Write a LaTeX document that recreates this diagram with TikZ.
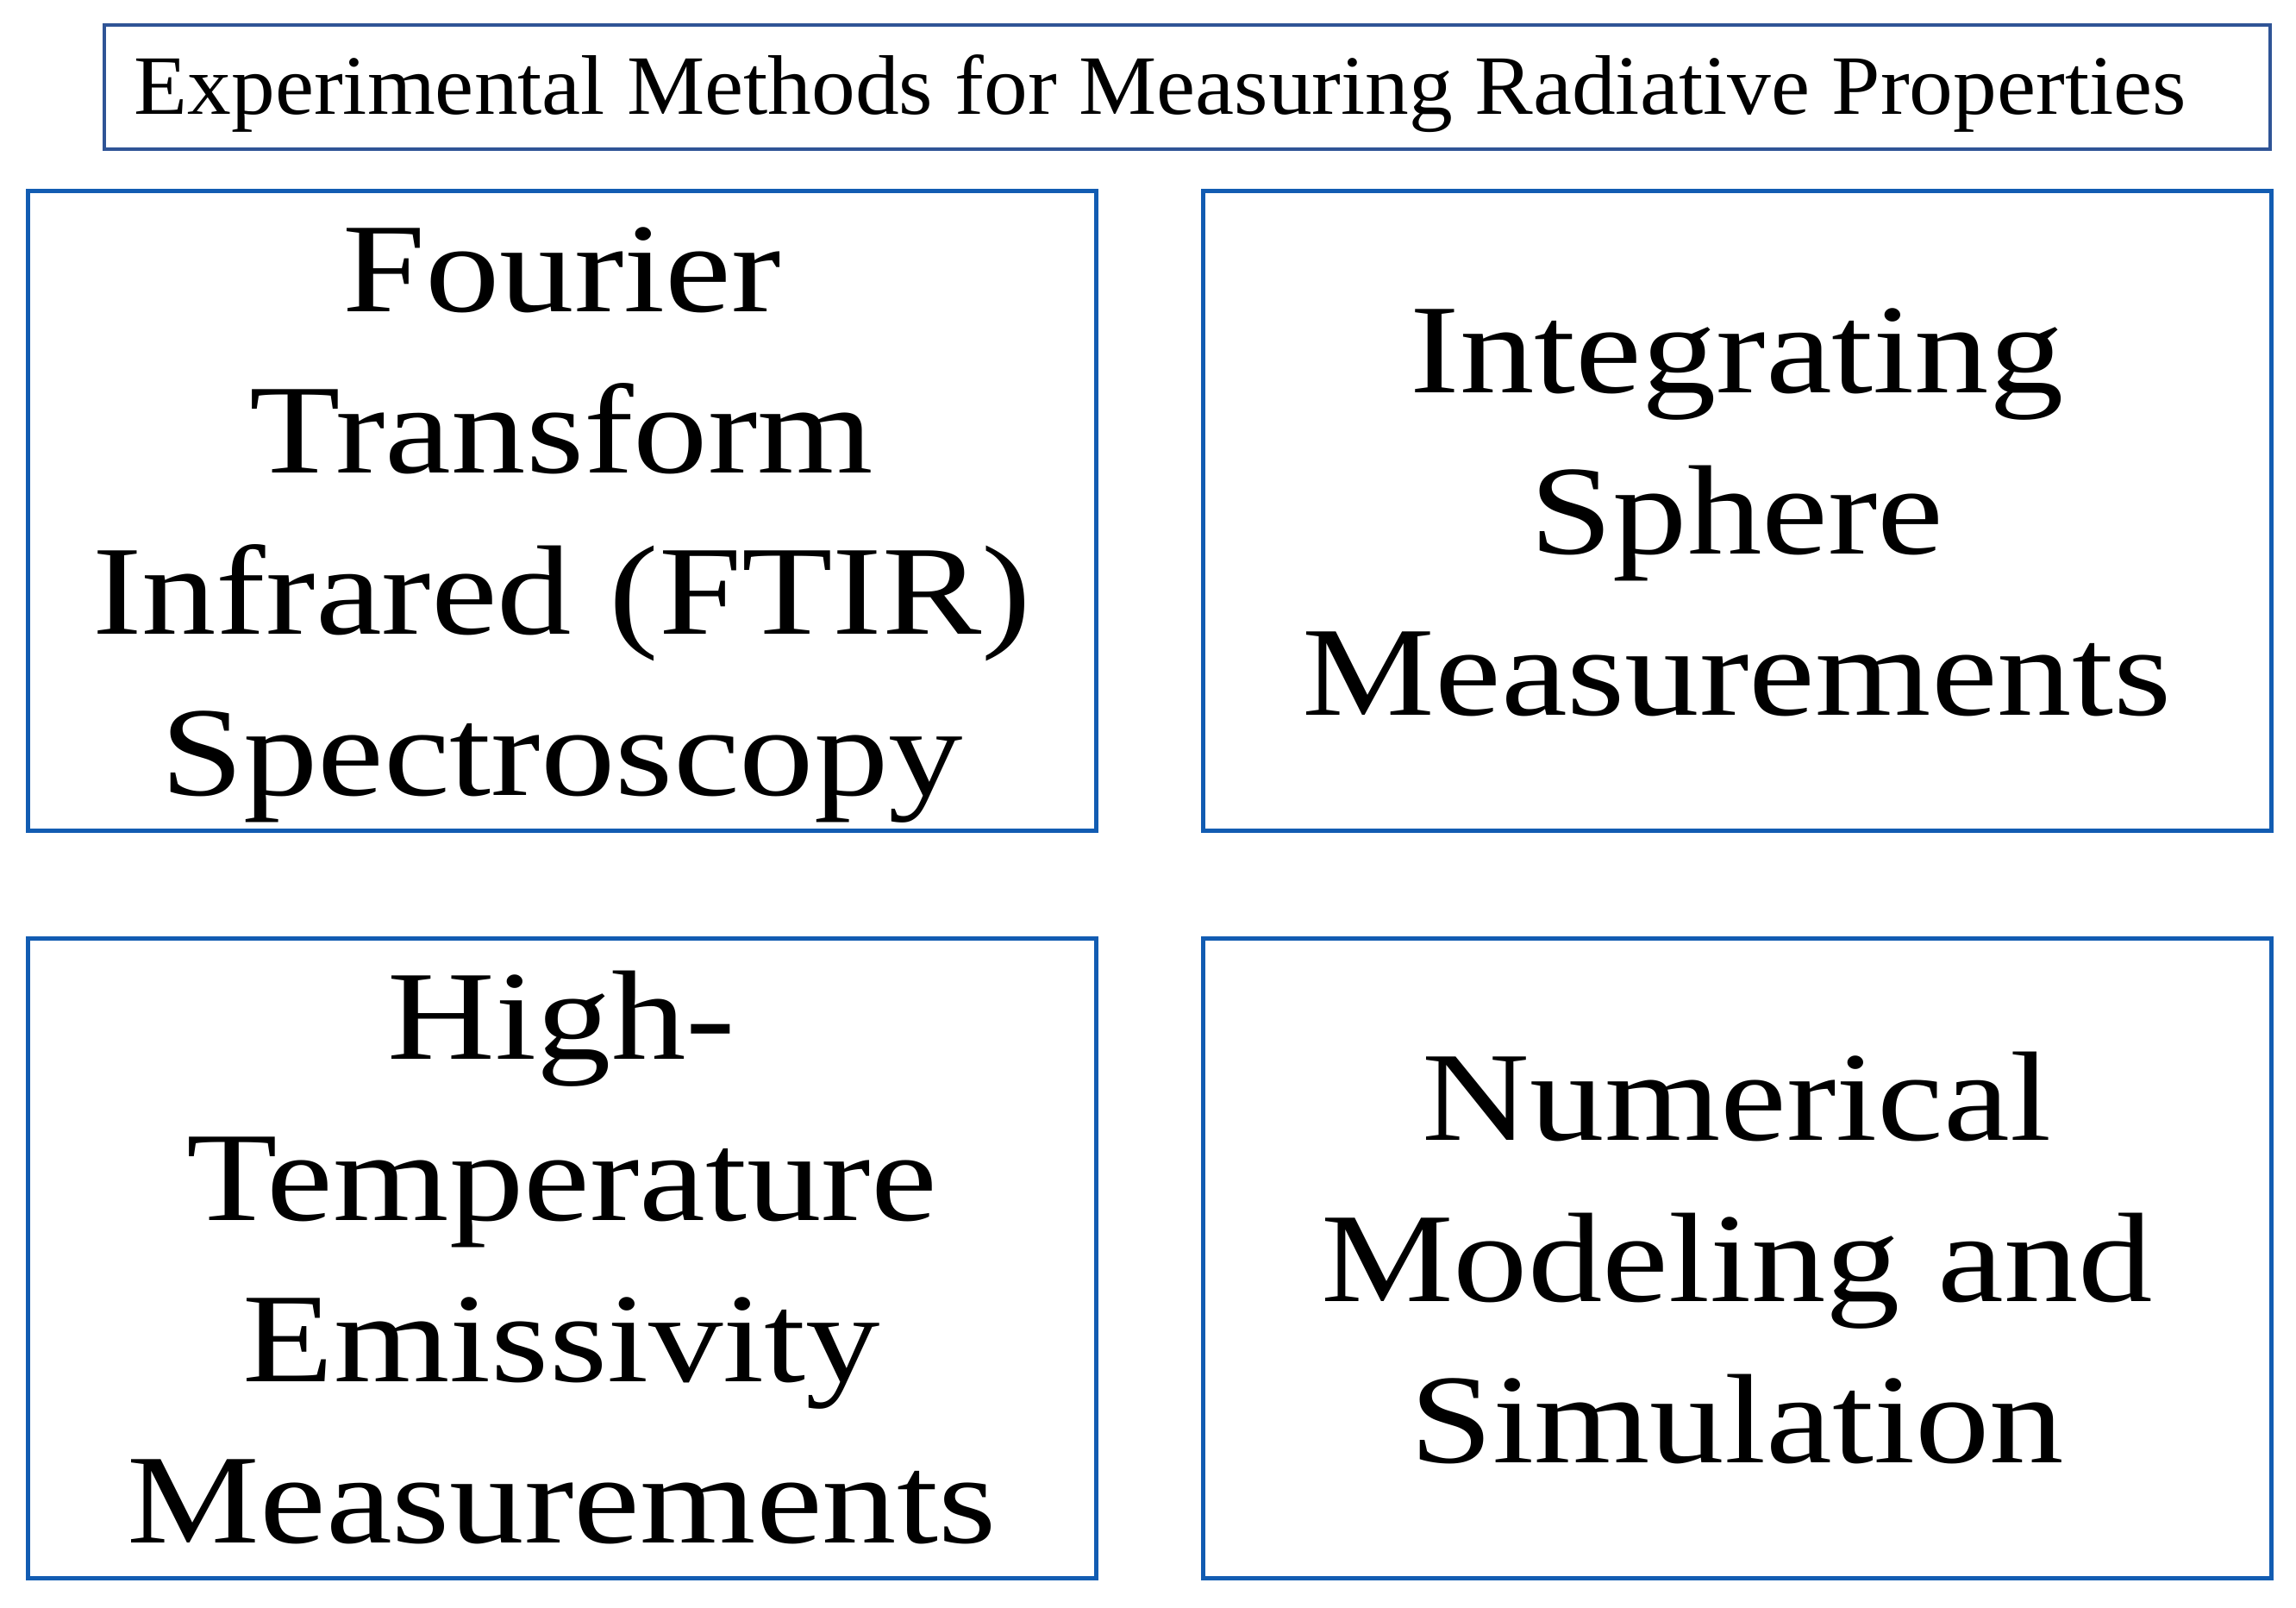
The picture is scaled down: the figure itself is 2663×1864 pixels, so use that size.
\documentclass[tikz,border=0pt]{standalone}
\usepackage{fontspec}
\setmainfont{Liberation Serif}
\newfontfamily\bigfont[FakeStretch=1.17]{Liberation Serif}
\newfontfamily\titlefont[FakeStretch=1.035]{Liberation Serif}
\definecolor{boxblue}{RGB}{18,92,178}
\definecolor{titleblue}{RGB}{47,84,150}
\newcommand\lnstrut{\rule[-13.05pt]{0pt}{56.1pt}}
\tikzset{
  methodbox/.style={draw=boxblue, line width=1.5pt, rectangle, inner sep=0pt,
    minimum width=371.7pt, minimum height=222.6pt},
  titlebox/.style={draw=titleblue, line width=1pt, rectangle, inner sep=0pt,
    minimum width=753.6pt, minimum height=43.2pt},
  bigtext/.style={inner sep=0pt, align=center,
    font=\bigfont\fontsize{44.3}{56.1}\selectfont},
  titletext/.style={inner sep=0pt, anchor=base west,
    font=\titlefont\fontsize{29.4}{34}\selectfont}
}
\begin{document}
\begin{tikzpicture}[x=0.3pt, y=-0.3pt]
\useasboundingbox (0,0) rectangle (2663,1864);
\node[titlebox] (title) at (1377,101) {};
\node[titletext] (titlet) at (155,132) {Experimental Methods for Measuring Radiative Properties};
\node[methodbox] (ftir) at (651.5,592) {};
\node[methodbox] (sphere) at (2014.5,592) {};
\node[methodbox] (hte) at (651.5,1459) {};
\node[methodbox] (num) at (2014.5,1459) {};
\node[bigtext] (ftirt) at (ftir.center) {\lnstrut Fourier\\Transform\\Infrared (FTIR)\\Spectroscopy\lnstrut};
\node[bigtext] (spheret) at (sphere.center) {\lnstrut Integrating\\Sphere\\Measurements\lnstrut};
\node[bigtext] (htet) at (hte.center) {\lnstrut High-\\Temperature\\Emissivity\\Measurements\lnstrut};
\node[bigtext] (numt) at (num.center) {\lnstrut Numerical\\Modeling and\\Simulation\lnstrut};
\end{tikzpicture}
\end{document}
